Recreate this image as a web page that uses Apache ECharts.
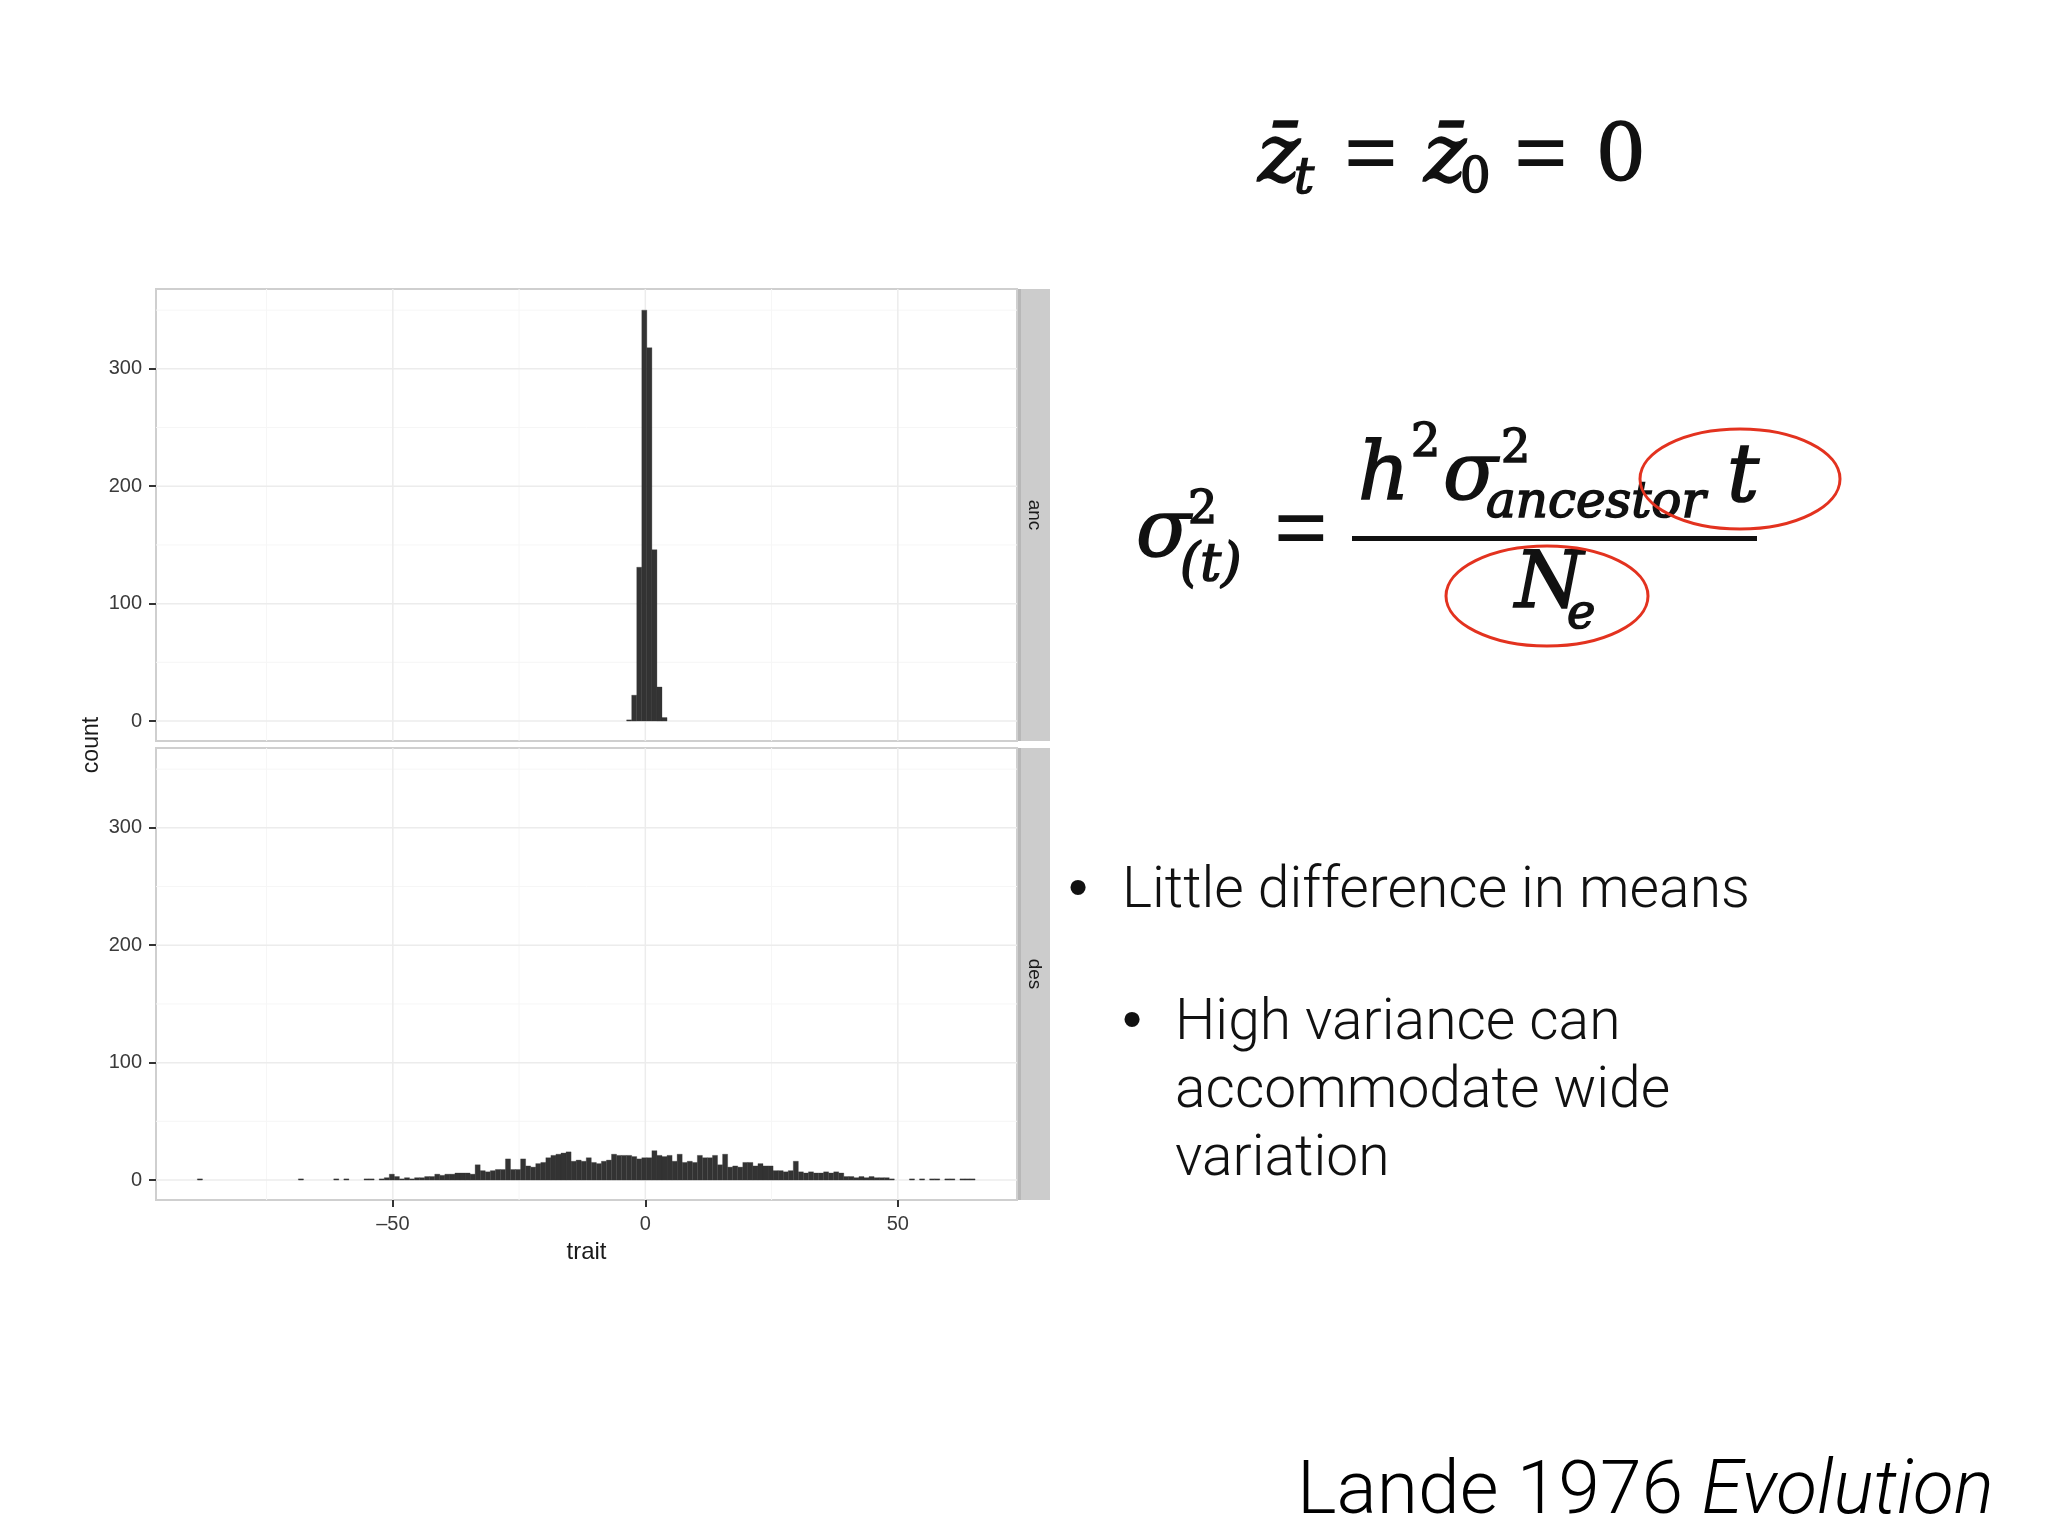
<!DOCTYPE html>
<html><head><meta charset="utf-8">
<script src="https://cdn.jsdelivr.net/npm/echarts@6/dist/echarts.min.js"></script>
<style>html,body{margin:0;padding:0;background:#fff}#c{width:2048px;height:1536px}</style>
</head><body><div id="c"></div><script>
// ---- data ----
const binWidth = 1;
const ancStart = -3.7;
const ancCounts = [1, 22, 131, 350, 318, 146, 29, 3];
const desStart = -88.7;
const desCounts = [
  1,0,0,0,0,0,0,0,0,0, 0,0,0,0,0,0,0,0,0,0,
  1,0,0,0,0,0,0,1,0,1, 0,0,0,1,1,0,1,2,5,3,
  1,2,1,2,2,3,3,5,4,5, 5,6,6,6,5,13,8,7,8,9,
  9,18,9,9,18,12,11,14,15,19, 21,22,23,24,16,17,16,19,15,14,
  16,17,22,21,21,21,20,18,19,19, 25,21,20,21,16,22,15,16,15,21,
  19,19,21,13,22,11,12,11,15,15, 12,14,12,12,8,8,7,8,16,7,
  6,7,6,6,7,6,7,6,3,3, 2,3,2,3,2,2,2,1,0,0,
  0,1,0,1,0,1,1,0,1,1, 0,1,1,1,0
];
const panelNames = ['anc', 'des'];
const xTickValues = [-50, 0, 50];
const xMinorGrid = [-75, -25, 25];
const yTickValues = [0, 100, 200, 300];
const yMinorGrid = [50, 150, 250, 350];
const xRange = [-96.9, 73.6];
const yRange = [-17, 368];
const xTitle = 'trait';
const yTitle = 'count';

function toBins(start, counts) {
  const out = [];
  counts.forEach((c, i) => { if (c > 0) out.push([start + i * binWidth, start + (i + 1) * binWidth, c]); });
  return out;
}

const chart = echarts.init(document.getElementById('c'));
const LEFT = 156, RIGHT_EDGE = 1017, W = RIGHT_EDGE - LEFT;
const grids = [
  { left: LEFT, top: 289, width: W, height: 452 },
  { left: LEFT, top: 748, width: W, height: 452 }
];

function gridLineSeries(gi, vals, dir, color, width) {
  return {
    type: 'custom', xAxisIndex: gi, yAxisIndex: gi, z: 1, silent: true,
    data: vals.map(v => [v]),
    renderItem: (params, api) => {
      const cs = params.coordSys;
      const v = api.value(0);
      let shape;
      if (dir === 'x') { const p = api.coord([v, 0]); shape = { x1: p[0], y1: cs.y, x2: p[0], y2: cs.y + cs.height }; }
      else { const p = api.coord([0, v]); shape = { x1: cs.x, y1: p[1], x2: cs.x + cs.width, y2: p[1] }; }
      return { type: 'line', shape, style: { stroke: color, lineWidth: width } };
    }
  };
}
function histSeries(gi, start, counts) {
  return {
    type: 'custom', xAxisIndex: gi, yAxisIndex: gi, z: 5, silent: true, clip: true,
    data: toBins(start, counts),
    renderItem: (params, api) => {
      const a = api.coord([api.value(0), api.value(2)]);
      const b = api.coord([api.value(1), 0]);
      return { type: 'rect', shape: { x: a[0], y: a[1], width: b[0] - a[0], height: b[1] - a[1] },
        style: { fill: '#333333', stroke: '#333333', lineWidth: 0.3 } };
    }
  };
}

const axisFont = { fontFamily: 'Liberation Sans', fontSize: 20, color: '#3a3a3a' };
const xAxes = [0, 1].map(i => ({
  type: 'value', gridIndex: i, min: xRange[0], max: xRange[1],
  axisLine: { show: false, onZero: false }, splitLine: { show: false },
  axisTick: { show: i === 1, customValues: xTickValues, length: 7, lineStyle: { color: '#333', width: 2 } },
  axisLabel: { show: i === 1, customValues: xTickValues, margin: 14, ...axisFont,
    formatter: v => (v < 0 ? '\u2013' + Math.abs(v) : String(v)) },
  name: i === 1 ? xTitle : '', nameLocation: 'middle', nameGap: 40,
  nameTextStyle: { fontFamily: 'Liberation Sans', fontSize: 24, color: '#1a1a1a' }
}));
const yAxes = [0, 1].map(i => ({
  type: 'value', gridIndex: i, min: yRange[0], max: yRange[1],
  axisLine: { show: false, onZero: false }, splitLine: { show: false },
  axisTick: { show: true, customValues: yTickValues, length: 7, lineStyle: { color: '#333', width: 2 } },
  axisLabel: { show: true, customValues: yTickValues, margin: 14, ...axisFont }
}));

const series = [];
[0, 1].forEach(i => {
  series.push(gridLineSeries(i, xMinorGrid, 'x', '#f6f6f6', 1));
  series.push(gridLineSeries(i, yMinorGrid, 'y', '#f6f6f6', 1));
  series.push(gridLineSeries(i, xTickValues, 'x', '#ececec', 1.5));
  series.push(gridLineSeries(i, yTickValues, 'y', '#ececec', 1.5));
});
series.push(histSeries(0, ancStart, ancCounts));
series.push(histSeries(1, desStart, desCounts));

const serif = 'DejaVu Serif';
function T(text, x, y, size, opts) {
  return Object.assign({ type: 'text', x, y, z: 10, silent: true,
    style: Object.assign({ text, fontSize: size, fontFamily: serif, fill: '#111', textAlign: 'left', textVerticalAlign: 'middle' }, opts || {}) });
}
const heavy = { stroke: '#111', lineWidth: 1.6 };
const it = Object.assign({ fontStyle: 'italic' }, heavy);
const up = Object.assign({}, heavy);
const eq = { fontFamily: 'Liberation Serif', fontWeight: 'bold', textAlign: 'center' };
const sans = 'Roboto';
const light = { fontFamily: sans, fontWeight: 300 };
const bullet = { fontFamily: 'Liberation Sans', textAlign: 'center' };
const graphic = [
  // facet strips
  { type: 'rect', z: 3, shape: { x: 1018, y: 289, width: 32, height: 452 }, style: { fill: '#cccccc' } },
  { type: 'rect', z: 3, shape: { x: 1018, y: 748, width: 32, height: 452 }, style: { fill: '#cccccc' } },
  { type: 'rect', z: 4, shape: { x: 1018, y: 289, width: 3, height: 452 }, style: { fill: '#b8b8b8' } },
  { type: 'rect', z: 4, shape: { x: 1018, y: 748, width: 3, height: 452 }, style: { fill: '#b8b8b8' } },
  { type: 'text', x: 1034, y: 515, rotation: -Math.PI / 2, z: 5,
    style: { text: panelNames[0], fontFamily: 'Liberation Sans', fontSize: 19, fill: '#1a1a1a', textAlign: 'center', textVerticalAlign: 'middle' } },
  { type: 'text', x: 1034, y: 974, rotation: -Math.PI / 2, z: 5,
    style: { text: panelNames[1], fontFamily: 'Liberation Sans', fontSize: 19, fill: '#1a1a1a', textAlign: 'center', textVerticalAlign: 'middle' } },
  { type: 'text', x: 92, y: 745, rotation: Math.PI / 2, z: 5,
    style: { text: yTitle, fontFamily: 'Liberation Sans', fontSize: 23, fill: '#1a1a1a', textAlign: 'center', textVerticalAlign: 'middle' } },
  // equation 1
  T('z\u0304', 1258, 160, 80, it),
  T('t', 1294, 180, 50, it),
  T('=', 1371, 160, 96, eq),
  T('z\u0304', 1424, 160, 80, it),
  T('0', 1460, 180, 48, up),
  T('=', 1541, 160, 96, eq),
  T('0', 1596, 160, 78, up),
  // equation 2
  T('\u03c3', 1136, 535, 80, it),
  T('2', 1188, 511, 46, up),
  T('(t)', 1180, 566, 52, it),
  T('=', 1301, 535, 96, eq),
  { type: 'rect', z: 10, shape: { x: 1352, y: 536, width: 405, height: 5 }, style: { fill: '#111' } },
  T('h', 1358, 478, 80, it),
  T('2', 1411, 444, 46, up),
  T('\u03c3', 1443, 478, 80, it),
  T('2', 1501, 450, 46, up),
  T('ancestor', 1486, 504, 50, it),
  T('t', 1727, 480, 80, it),
  T('N', 1515, 587, 78, it),
  T('e', 1567, 616, 48, it),
  { type: 'ellipse', z: 11, shape: { cx: 1740, cy: 479, rx: 100, ry: 50 }, style: { fill: 'none', stroke: '#e3321f', lineWidth: 3 } },
  { type: 'ellipse', z: 11, shape: { cx: 1547, cy: 596, rx: 101, ry: 50 }, style: { fill: 'none', stroke: '#e3321f', lineWidth: 3 } },
  // bullets
  T('\u2022', 1078, 891, 56, bullet),
  T('Little difference in means', 1122, 893, 57, light),
  T('\u2022', 1132, 1023, 56, bullet),
  T('High variance can', 1175, 1025, 57, light),
  T('accommodate wide', 1175, 1093, 57, light),
  T('variation', 1175, 1161, 57, light),
  { type: 'text', x: 1297, y: 1494, z: 10, style: { text: '{a|Lande 1976 }{b|Evolution}', textVerticalAlign: 'middle',
      rich: { a: { fontFamily: sans, fontWeight: 300, fontSize: 75, color: '#111' },
              b: { fontFamily: sans, fontWeight: 300, fontStyle: 'italic', fontSize: 75, color: '#111' } } } }
];

chart.setOption({
  animation: false,
  backgroundColor: '#ffffff',
  grid: grids.map(g => Object.assign({ show: true, borderColor: '#cfcfcf', borderWidth: 2, backgroundColor: '#ffffff' }, g)),
  xAxis: xAxes,
  yAxis: yAxes,
  series,
  graphic
});
</script></body></html>
